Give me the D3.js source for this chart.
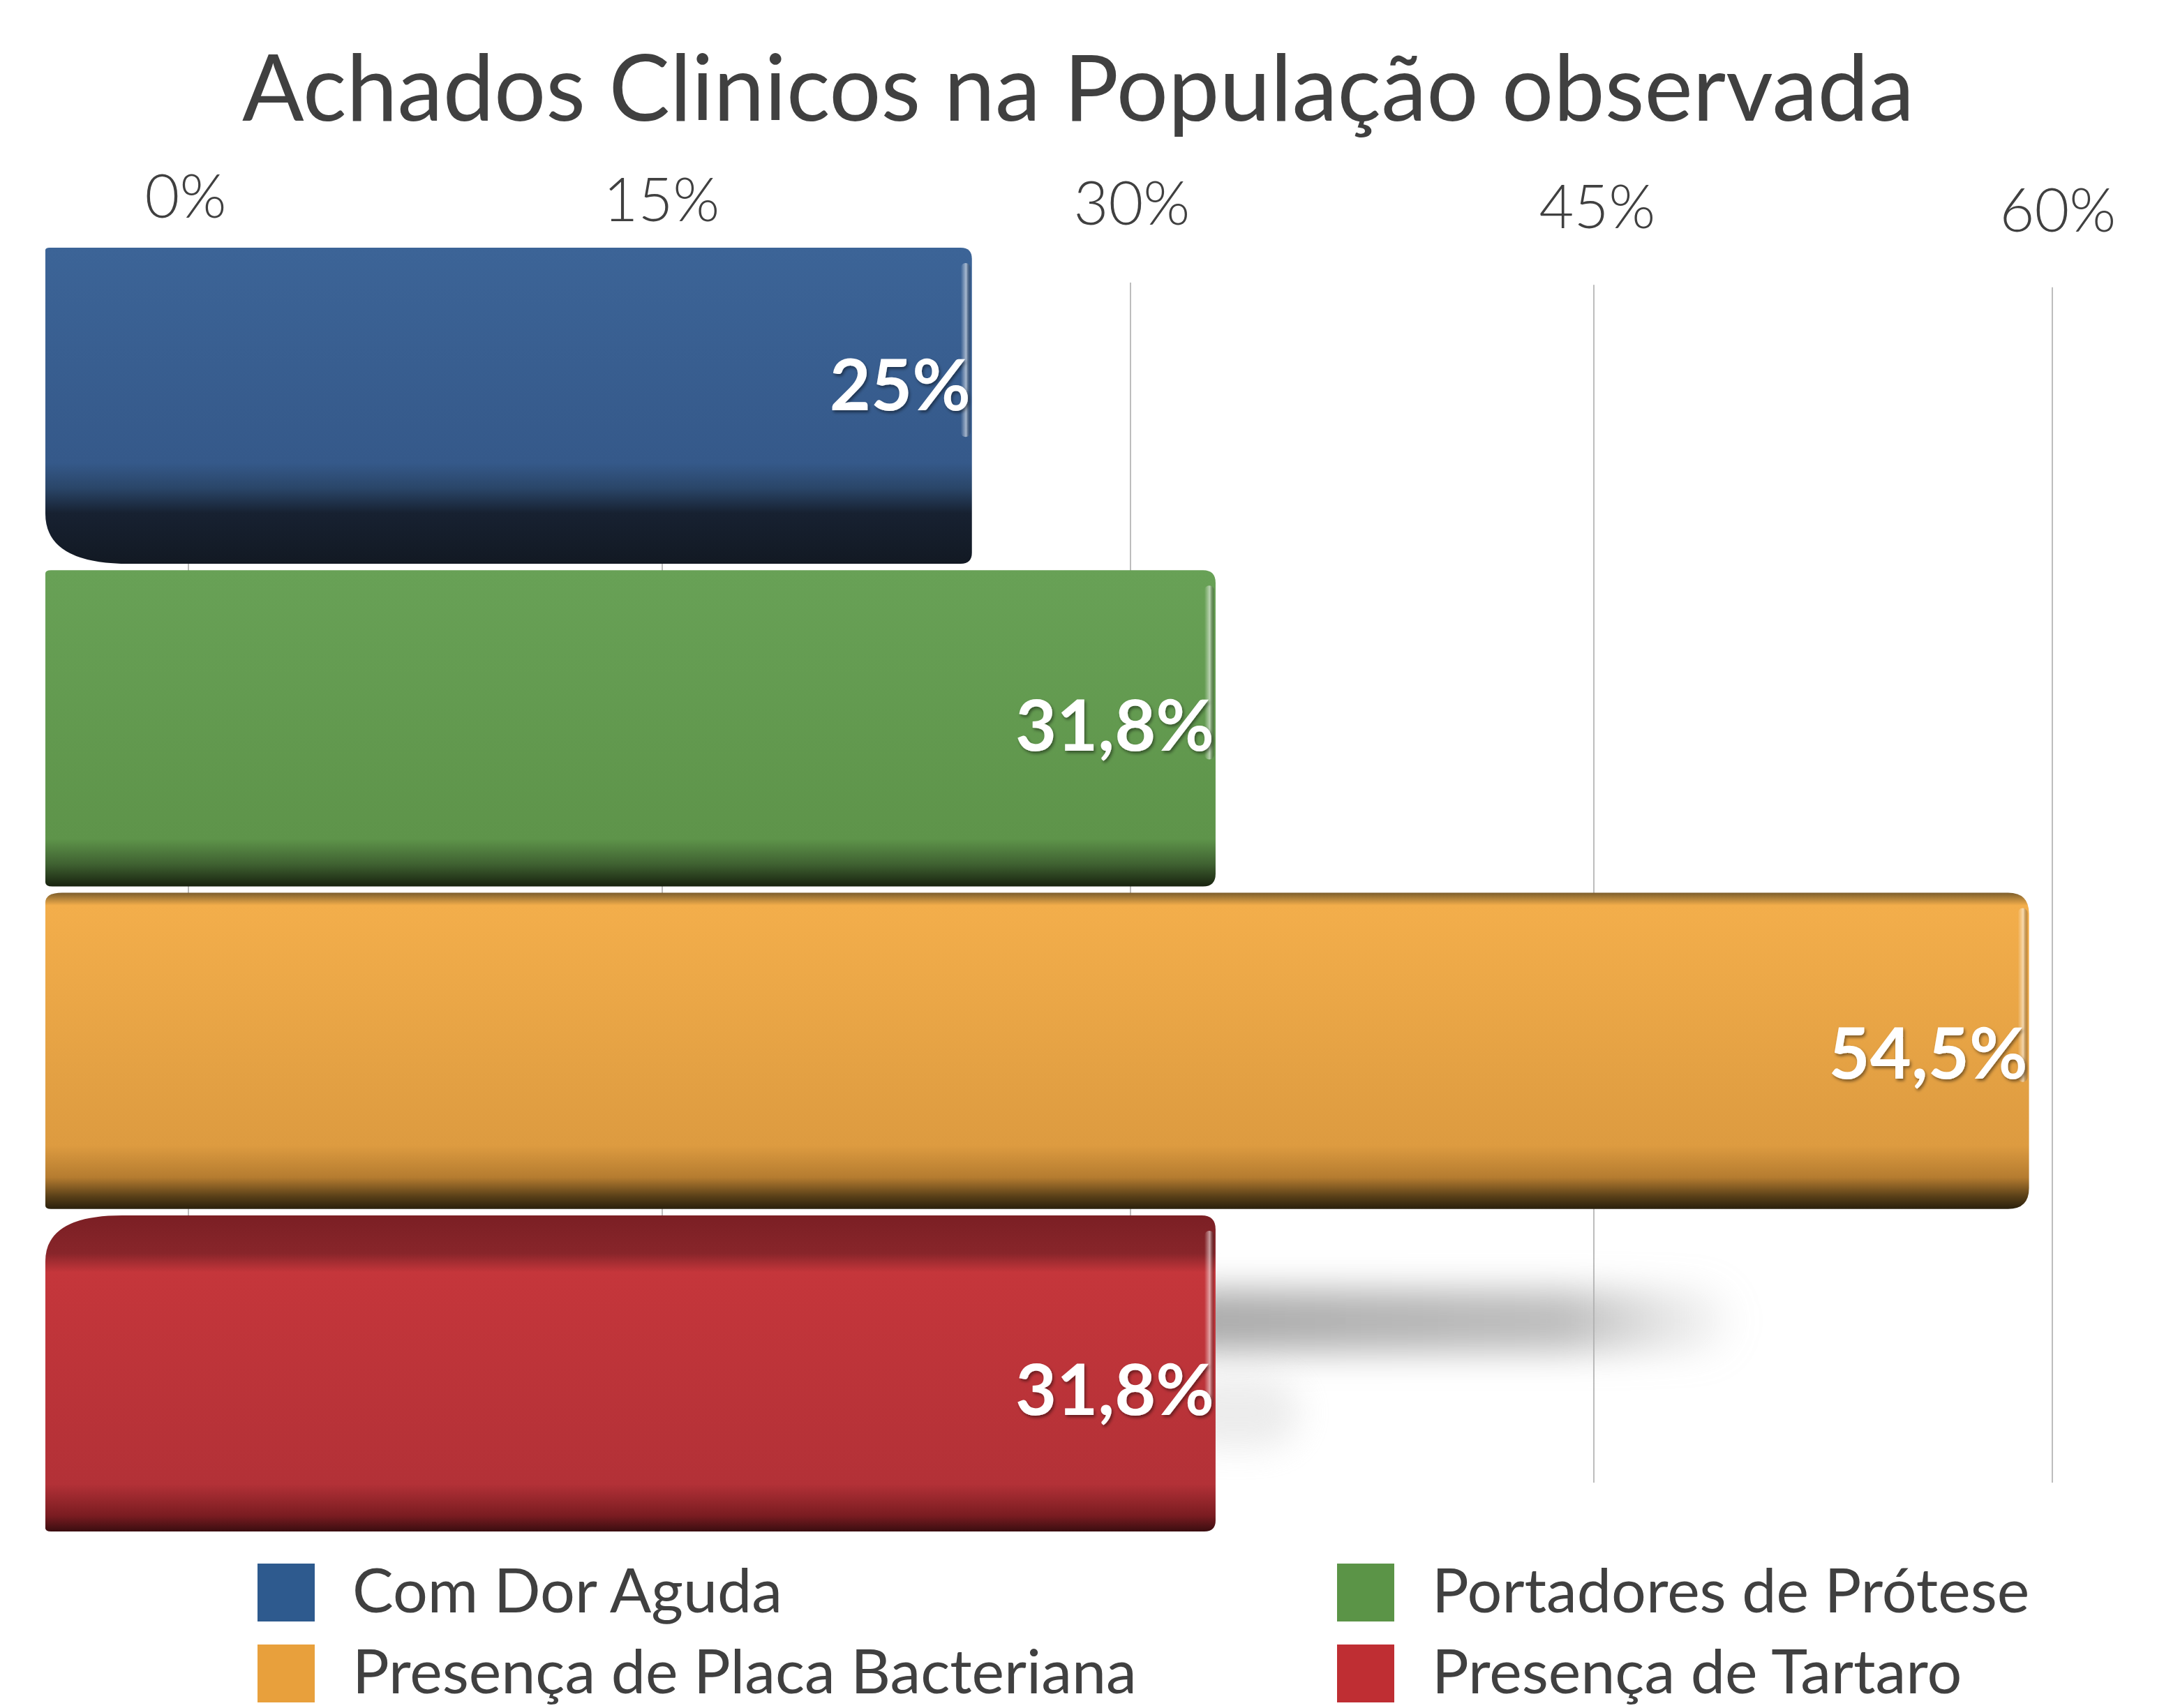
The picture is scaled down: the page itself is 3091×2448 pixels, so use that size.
<!DOCTYPE html>
<html>
<head>
<meta charset="utf-8">
<script src="https://cdn.jsdelivr.net/npm/d3@7"></script>
<style>
  body { margin: 0; background: #fff; }
  text { font-family: Lato, "Open Sans", sans-serif; }
</style>
</head>
<body>
<div id="chart"></div>
<script>
var categories = ["Com Dor Aguda", "Portadores de Prótese", "Presença de Placa Bacteriana", "Presença de Tartaro"];
var values = [25, 31.8, 54.5, 31.8];
var valueLabels = ["25%", "31,8%", "54,5%", "31,8%"];
var ticks = [0, 15, 30, 45, 60];
var tickLabels = ["0%", "15%", "30%", "45%", "60%"];
var legendColors = ["#2e5a8e", "#5b9447", "#e8a03c", "#bf2e33"];

function init() {
    var w = 3091;
    var h = 2448;

    var svg = d3.select("#chart")
                  .append("svg")
                  .attr("width", w)
                  .attr("height", h);

    var defs = svg.append("defs");

    // vertical shading per bar (3d look)
    var shades = [
      [[0, "#3c6497"], [0.68, "#35598a"], [0.76, "#2a4669"], [0.84, "#172131"], [1, "#121923"]],
      [[0, "#68a156"], [0.85, "#5e944a"], [0.93, "#3f6131"], [1, "#18230f"]],
      [[0, "#7d5e2c"], [0.04, "#f3ae4b"], [0.8, "#dd9b40"], [0.9, "#b57c30"], [0.96, "#5a4018"], [1, "#2a200c"]],
      [[0, "#7b1f24"], [0.12, "#88252a"], [0.18, "#c5363b"], [0.85, "#b33137"], [0.95, "#7a1c21"], [1, "#3a0d10"]]
    ];
    shades.forEach(function(s, i) {
      var g = defs.append("linearGradient")
          .attr("id", "shade" + i)
          .attr("x1", 0).attr("y1", 0).attr("x2", 0).attr("y2", 1);
      s.forEach(function(st) {
        g.append("stop").attr("offset", st[0]).attr("stop-color", st[1]);
      });
    });

    var hl = defs.append("linearGradient")
        .attr("id", "edge").attr("x1", 0).attr("x2", 1).attr("y1", 0).attr("y2", 0);
    hl.append("stop").attr("offset", 0).attr("stop-color", "#fff").attr("stop-opacity", 0);
    hl.append("stop").attr("offset", 0.55).attr("stop-color", "#fff").attr("stop-opacity", 0.55);
    hl.append("stop").attr("offset", 1).attr("stop-color", "#000").attr("stop-opacity", 0.15);

    // soft shadow fading to the right
    var sh = defs.append("linearGradient")
        .attr("id", "shadowFade").attr("x1", 0).attr("x2", 1).attr("y1", 0).attr("y2", 0);
    sh.append("stop").attr("offset", 0).attr("stop-color", "#9a9a9a").attr("stop-opacity", 0.85);
    sh.append("stop").attr("offset", 0.7).attr("stop-color", "#a8a8a8").attr("stop-opacity", 0.75);
    sh.append("stop").attr("offset", 1).attr("stop-color", "#c0c0c0").attr("stop-opacity", 0.1);

    defs.append("filter").attr("id", "blur")
        .attr("x", "-50%").attr("y", "-100%").attr("width", "200%").attr("height", "300%")
        .append("feGaussianBlur").attr("stdDeviation", 24);

    var txtShadow = defs.append("filter").attr("id", "tshadow");
    txtShadow.append("feDropShadow").attr("dx", 2).attr("dy", 3)
        .attr("stdDeviation", 2).attr("flood-color", "#000").attr("flood-opacity", 0.45);

    // scales (grid slightly compressed to the right, bars extruded left of origin)
    var xGrid = d3.scaleLinear().domain(ticks).range([270, 949, 1620, 2284, 2941]);
    var xBar = d3.scaleLinear().domain([0, 60]).range([109, 109 + 60 * 51.35]);
    var barLeft = 65;
    var yTick = d3.scaleLinear().domain([0, 60]).range([312, 332]);
    var y = d3.scaleBand().domain(categories).range([355, 2195]).paddingInner(0.02);

    // title
    svg.append("text")
        .attr("x", 1545)
        .attr("y", 173)
        .attr("text-anchor", "middle")
        .attr("font-size", 131)
        .attr("fill", "#404040")
        .text("Achados Clinicos na População observada");

    // grid
    svg.append("g").selectAll("line")
        .data(ticks)
        .enter()
        .append("line")
        .attr("x1", function(d) { return xGrid(d); })
        .attr("x2", function(d) { return xGrid(d); })
        .attr("y1", function(d) { return 398 + d * 0.23; })
        .attr("y2", 2125)
        .attr("stroke", "#bdbdbd")
        .attr("stroke-width", 2);

    svg.append("g").selectAll("text")
        .data(ticks)
        .enter()
        .append("text")
        .attr("x", function(d) { return xGrid(d) - 4 + d * 0.2; })
        .attr("y", function(d) { return yTick(d); })
        .attr("text-anchor", "middle")
        .attr("font-size", 86)
        .attr("font-weight", 300)
        .attr("fill", "#404040")
        .text(function(d, i) { return tickLabels[i]; });

    // shadow behind last bar
    svg.append("rect")
        .attr("x", xBar(values[3]) - 60)
        .attr("y", 1848)
        .attr("width", 800)
        .attr("height", 90)
        .attr("rx", 45)
        .attr("fill", "url(#shadowFade)")
        .attr("filter", "url(#blur)");
    svg.append("rect")
        .attr("x", xBar(values[3]) - 60)
        .attr("y", 1975)
        .attr("width", 180)
        .attr("height", 100)
        .attr("rx", 50)
        .attr("fill", "#d0d0d0")
        .attr("opacity", 0.4)
        .attr("filter", "url(#blur)");

    // corner radii [tl, tr, br, bl]
    var corners = [[6, 16, 16, 120], [8, 18, 18, 10], [24, 30, 30, 8], [110, 20, 16, 8]];

    function barPath(x0, y0, x1, y1, r) {
      var tl = r[0], tr = r[1], br = r[2], bl = r[3];
      return "M" + (x0 + tl) + "," + y0 +
        "L" + (x1 - tr) + "," + y0 +
        "Q" + x1 + "," + y0 + " " + x1 + "," + (y0 + tr) +
        "L" + x1 + "," + (y1 - br) +
        "Q" + x1 + "," + y1 + " " + (x1 - br) + "," + y1 +
        "L" + (x0 + bl) + "," + y1 +
        "Q" + x0 + "," + y1 + " " + x0 + "," + (y1 - bl * 0.6) +
        "L" + x0 + "," + (y0 + tl * 0.6) +
        "Q" + x0 + "," + y0 + " " + (x0 + tl) + "," + y0 + "Z";
    }

    var bars = svg.selectAll("g.bar")
        .data(values)
        .enter()
        .append("g")
        .attr("class", "bar");

    bars.append("path")
        .attr("d", function(d, i) {
          return barPath(barLeft, y(categories[i]), xBar(d), y(categories[i]) + y.bandwidth(), corners[i]);
        })
        .attr("fill", function(d, i) { return "url(#shade" + i + ")"; });

    // right rounded edge highlight
    bars.append("rect")
        .attr("x", function(d) { return xBar(d) - 16; })
        .attr("y", function(d, i) { return y(categories[i]) + 22; })
        .attr("width", 14)
        .attr("height", function() { return y.bandwidth() * 0.55; })
        .attr("rx", 7)
        .attr("fill", "url(#edge)");

    bars.append("text")
        .attr("x", function(d) { return xBar(d) - 2; })
        .attr("y", function(d, i) { return y(categories[i]) + y.bandwidth() / 2 + [6, 32, 40, 60][i]; })
        .attr("text-anchor", "end")
        .attr("font-size", 102)
        .attr("font-weight", 700)
        .attr("fill", "#fff")
        .attr("filter", "url(#tshadow)")
        .text(function(d, i) { return valueLabels[i]; });

    // legend
    var legend = svg.selectAll("g.legend")
        .data(categories)
        .enter()
        .append("g")
        .attr("class", "legend")
        .attr("transform", function(d, i) {
          return "translate(" + (i % 2 === 0 ? 369 : 1916) + "," + (i < 2 ? 2241 : 2357) + ")";
        });

    legend.append("rect")
        .attr("width", 82)
        .attr("height", 83)
        .attr("fill", function(d, i) { return legendColors[i]; });

    legend.append("text")
        .attr("x", 136)
        .attr("y", 70)
        .attr("font-size", 88)
        .attr("fill", "#404040")
        .text(function(d) { return d; });
}

window.onload = init;
</script>
</body>
</html>
